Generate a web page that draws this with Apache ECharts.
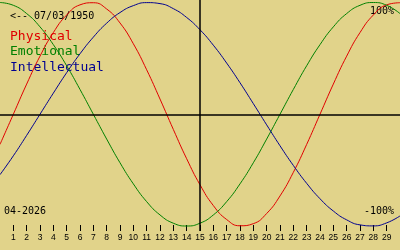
<!DOCTYPE html>
<html>
<head>
<meta charset="utf-8">
<script src="https://cdn.jsdelivr.net/npm/echarts@6/dist/echarts.min.js"></script>
<style>
html,body{margin:0;padding:0;background:#e1d38a;}
#c{width:400px;height:250px;}
</style>
</head>
<body>
<div id="c"></div>
<script>
// Days of the month (0..30), x positions on the day axis
var days = [0,1,2,3,4,5,6,7,8,9,10,11,12,13,14,15,16,17,18,19,20,21,22,23,24,25,26,27,28,29,30];
// Tick labels along the bottom
var tickDays = [1,2,3,4,5,6,7,8,9,10,11,12,13,14,15,16,17,18,19,20,21,22,23,24,25,26,27,28,29];
// Series values (fraction of 100%)
var physical = [-0.270,0,0.270,0.520,0.731,0.888,0.979,0.998,0.942,0.817,0.631,0.398,0.136,-0.136,-0.398,-0.631,-0.817,-0.942,-0.998,-0.979,-0.888,-0.731,-0.520,-0.270,0,0.270,0.520,0.731,0.888,0.979,0.998];
var emotional = [1.0,0.975,0.901,0.782,0.623,0.434,0.222,0,-0.222,-0.434,-0.623,-0.782,-0.901,-0.975,-1.0,-0.975,-0.901,-0.782,-0.623,-0.434,-0.222,0,0.222,0.434,0.623,0.782,0.901,0.975,1.0,0.975,0.901];
var intellectual = [-0.541,-0.372,-0.189,0,0.189,0.372,0.541,0.690,0.815,0.910,0.972,0.999,0.990,0.945,0.866,0.756,0.618,0.458,0.282,0.095,-0.095,-0.282,-0.458,-0.618,-0.756,-0.866,-0.945,-0.990,-0.999,-0.972,-0.910];
var seriesNames = ['Physical','Emotional','Intellectual'];
var seriesColors = ['#e00000','#008000','#000090'];
var birthText = '<-- 07/03/1950';
var monthText = '04-2026';
var topText = '100%';
var bottomText = '-100%';
var markDay = 15;

function pairs(vals){ return days.map(function(d,i){ return [d, vals[i]]; }); }
var allVals = [physical, emotional, intellectual];

var chart = echarts.init(document.getElementById('c'), null, {renderer:'canvas'});
var mono = '"DejaVu Sans Mono", monospace';
var series = seriesNames.map(function(n,i){
  var s = {
    name: n, type: 'line', data: pairs(allVals[i]), smooth: 0.5,
    showSymbol: false, symbol: 'none', silent: true,
    lineStyle: {color: seriesColors[i], width: 1},
    itemStyle: {color: seriesColors[i]},
    z: 3
  };
  if (i === 0) {
    s.markLine = {
      silent: true, symbol: ['none','none'], label: {show:false},
      lineStyle: {color:'#000', width: 1.5, type:'solid'},
      data: [{yAxis: 0}, {xAxis: markDay}],
      animation: false
    };
  }
  return s;
});

chart.setOption({
  animation: false,
  backgroundColor: '#e1d38a',
  grid: {left: 0, right: 0, top: 0, height: 231, containLabel: false},
  xAxis: {
    type: 'value', min: 0, max: 30, interval: 1, position: 'bottom',
    axisLine: {show: false, onZero: false},
    splitLine: {show: false},
    axisTick: {show: true, inside: true, length: 6, customValues: tickDays, lineStyle: {color:'#000', width: 1}},
    axisLabel: {show: true, customValues: tickDays, margin: 2, color: '#000', fontSize: 8.5,
      fontFamily: '"Liberation Sans", sans-serif'}
  },
  yAxis: {
    type: 'value', min: -1.0447, max: 1.0224, show: false,
    splitLine: {show: false}
  },
  series: series,
  graphic: [
    {type:'text', left: 10, top: 11, style:{text: birthText, font: '10px ' + mono, fill:'#000'}},
    {type:'text', left: 10, top: 30, style:{text: seriesNames[0], font: '13px ' + mono, fill: seriesColors[0]}},
    {type:'text', left: 10, top: 45.5, style:{text: seriesNames[1], font: '13px ' + mono, fill: seriesColors[1]}},
    {type:'text', left: 10, top: 61, style:{text: seriesNames[2], font: '13px ' + mono, fill: seriesColors[2]}},
    {type:'text', right: 6, top: 6, style:{text: topText, font: '10px ' + mono, fill:'#000'}},
    {type:'text', right: 6, top: 206, style:{text: bottomText, font: '10px ' + mono, fill:'#000'}},
    {type:'text', left: 4, top: 206, style:{text: monthText, font: '10px ' + mono, fill:'#000'}}
  ]
});
</script>
</body>
</html>
